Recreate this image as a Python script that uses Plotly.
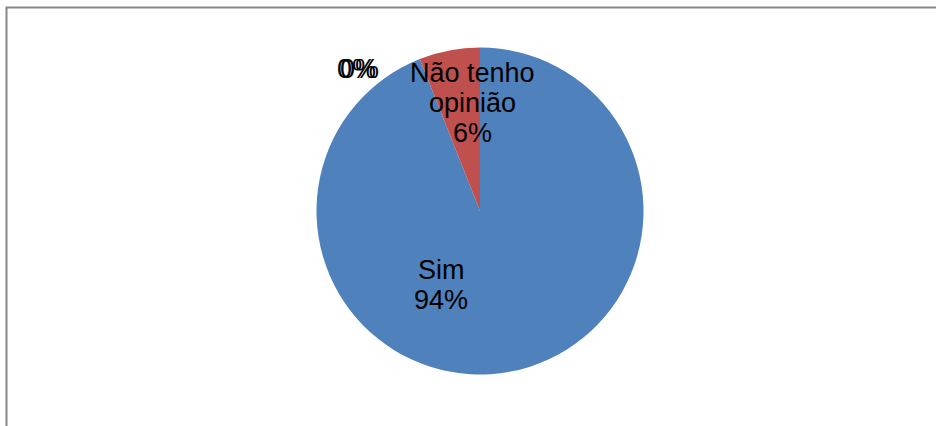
import plotly.graph_objects as go

# Survey answers (percent of respondents)
categories = ["Sim", "Não tenho opinião", "Não", "Talvez"]
values = [94, 6, 0, 0]
colors = ["#4F81BD", "#C0504D", "#9BBB59", "#8064A2"]

# Data-label placement in pixels (centre of the first line) and name lines shown
label_xy = [(441, 270), (472, 73), (356.5, 69), (359.5, 69.5)]
name_lines = [["Sim"], ["Não tenho", "opinião"], [], []]
LINE_GAP = 30  # pixels between label lines
FONT_SIZE = 27

W, H = 936, 426
cx, cy, r = 480, 211, 163.5  # pie centre and radius in pixels

fig = go.Figure(
    go.Pie(
        labels=categories,
        values=values,
        sort=False,
        direction="clockwise",
        rotation=0,
        marker=dict(colors=colors, line=dict(width=0)),
        textinfo="none",
        hoverinfo="label+percent",
        domain=dict(
            x=[(cx - r) / W, (cx + r) / W],
            y=[(H - cy - r) / H, (H - cy + r) / H],
        ),
        showlegend=False,
    )
)

total = sum(values)
annotations = []
for v, (px, py), lines in zip(values, label_xy, name_lines):
    pct = f"{round(v / total * 100)}%"
    for i, line in enumerate(lines + [pct]):
        annotations.append(
            dict(
                x=px / W, y=1 - (py + i * LINE_GAP) / H,
                xref="paper", yref="paper",
                text=line, showarrow=False,
                font=dict(family="Liberation Sans, Arial, sans-serif",
                          size=FONT_SIZE, color="#000000"),
                xanchor="center", yanchor="middle",
            )
        )

fig.update_layout(
    width=W, height=H,
    margin=dict(l=0, r=0, t=0, b=0),
    paper_bgcolor="white",
    plot_bgcolor="white",
    annotations=annotations,
    shapes=[
        dict(
            type="rect", xref="paper", yref="paper",
            x0=6.5 / W, x1=1.05, y0=-0.05, y1=1 - 7.5 / H,
            line=dict(color="#878787", width=2),
            fillcolor="rgba(0,0,0,0)", layer="below",
        )
    ],
)

fig.write_html("out.html")
